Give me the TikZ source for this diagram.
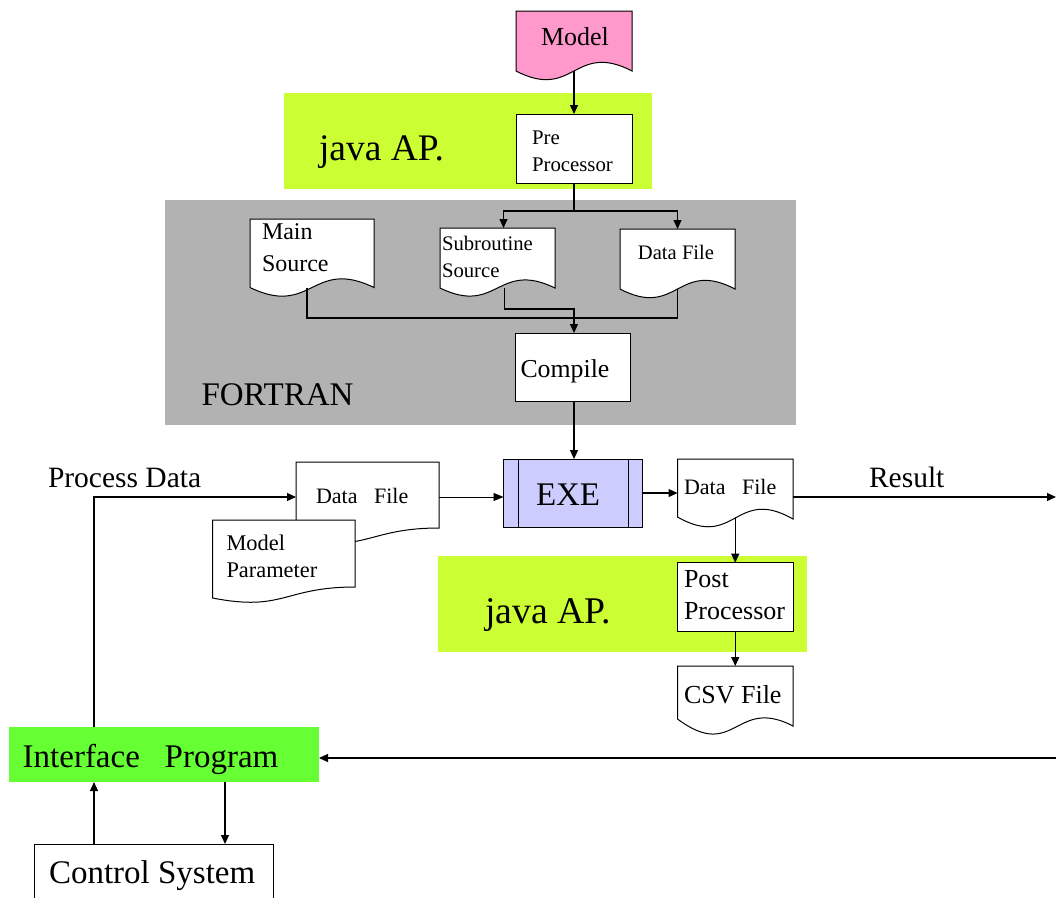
\documentclass[tikz,border=0pt]{standalone}
\usepackage{fontspec}
\setmainfont{Liberation Serif}
\usetikzlibrary{arrows.meta,fit,calc}
\definecolor{modelpink}{HTML}{FF99CC}
\definecolor{javagreen}{HTML}{CCFF33}
\definecolor{fortrangray}{HTML}{B2B2B2}
\definecolor{exeblue}{HTML}{CCCCFF}
\definecolor{ifgreen}{HTML}{66FF33}
\newcommand\tsz[1]{\fontsize{#1}{#1}\selectfont}

\begin{document}
\begin{tikzpicture}[x=1pt,y=-1pt,
  region/.style={inner sep=0pt, outer sep=0pt, draw=none},
  holder/.style={inner sep=0pt, outer sep=0pt, draw=none},
  boxed/.style={inner sep=0pt, outer sep=0pt, draw=black, line width=1pt, fill=white},
  docline/.style={draw=black, line width=1pt, fill=white},
  txt/.style={inner sep=0pt, outer sep=0pt, anchor=base west},
  link/.style={draw=black, line width=1.2pt},
  arr/.style={link, -{Triangle[length=9pt,width=8pt]}},
  thinarr/.style={draw=black, line width=0.6pt, -{Triangle[length=10pt,width=8pt]}},
]
\useasboundingbox (0,0) rectangle (1056,897);
\clip (0,0) rectangle (1056,897);

% coloured regions
\node[region, fill=javagreen, fit={(284,93) (652,189)}] (javaA) {};
\node[region, fill=fortrangray, fit={(165,200) (796,425)}] (fortran) {};
\node[region, fill=javagreen, fit={(438,556) (807,652)}] (javaB) {};
\node[region, fill=ifgreen, fit={(9,727) (319,782)}] (iface) {};

% document shapes (rectangle with wavy bottom edge)
\node[holder, fit={(516,11) (632,71)}] (model) {};
\filldraw[docline, fill=modelpink] (516,11) -- (632,11) -- (632,71)
  .. controls (574,41) and (574,101) .. (516,71) -- cycle;

\node[holder, fit={(250,219) (374,287.5)}] (main) {};
\filldraw[docline] (250,219) -- (374,219) -- (374,287.5)
  .. controls (312,257.5) and (312,317.5) .. (250,287.5) -- cycle;

\node[holder, fit={(440,228) (555,288)}] (sub) {};
\filldraw[docline] (440,228) -- (555,228) -- (555,288)
  .. controls (497.5,260) and (497.5,316) .. (440,288) -- cycle;

\node[holder, fit={(620,229) (735,289)}] (dat1) {};
\filldraw[docline] (620,229) -- (735,229) -- (735,289)
  .. controls (677.5,259) and (677.5,319) .. (620,289) -- cycle;

\node[holder, fit={(296,462) (439,528)}] (dfl) {};
\filldraw[docline] (296,462) -- (439,462) -- (439,528)
  .. controls (367.5,528) and (367.5,553) .. (296,539) -- cycle;

\node[holder, fit={(212.6,520) (355,587)}] (mpar) {};
\filldraw[docline] (212.6,520) -- (355,520) -- (355,587)
  .. controls (283.8,587) and (283.8,612) .. (212.6,598) -- cycle;

\node[holder, fit={(677.5,459) (793,518)}] (dfr) {};
\filldraw[docline] (677.5,459) -- (793,459) -- (793,519)
  .. controls (735.25,486) and (735.25,550) .. (677.5,517) -- cycle;

\node[holder, fit={(677.5,666) (793,722)}] (csv) {};
\filldraw[docline] (677.5,666) -- (793,666) -- (793,726)
  .. controls (735.25,696) and (735.25,762) .. (677.5,719) -- cycle;

% process boxes
\node[boxed, fit={(516,114) (632,183)}] (pre) {};
\node[boxed, fit={(515,333) (630,401)}] (compile) {};
\node[boxed, fill=exeblue, fit={(503.5,459) (642.7,527)}] (exe) {};
\draw[line width=1pt] ([xshift=14.5pt]exe.north west) -- ([xshift=14.5pt]exe.south west);
\draw[line width=1pt] ([xshift=-14.7pt]exe.north east) -- ([xshift=-14.7pt]exe.south east);
\node[boxed, fit={(677.5,562.7) (793,631.7)}] (post) {};
\node[boxed, fit={(34,844) (273,905)}] (ctrl) {};

% connectors
\coordinate (split) at (574,211);
\coordinate (jog) at (574,309);
\coordinate (join) at (574,318);
\coordinate (pd) at (94,497);
\coordinate (down) at (225,800);
\coordinate (resend) at (1056,497);
\coordinate (fb) at (1056,758);
\coordinate (din) at ([yshift=-2pt]dfl.east);

\draw[arr] (model.south) -- (pre.north);
\draw[link] (pre.south) -- (split);
\draw[arr] (split) -| ([xshift=6pt]sub.north);
\draw[arr] (split) -| (dat1.north);
\draw[link] ([xshift=-5pt]main.south) |- (join);
\draw[link] (dat1.south) |- (join);
\draw[arr] ([xshift=7pt]sub.south) |- (jog) -- (jog |- compile.north);
\draw[arr] (compile.south -| jog) -- (exe.north -| jog);
\draw[thinarr] (din) -- (din -| exe.west);
\draw[arr] (iface.north -| pd) -- (pd) -- (pd -| dfl.west);
\draw[arr] (exe.east) -- (exe.east -| dfr.west);
\draw[arr] (dfr.east |- resend) -- (resend);
\draw[arr] (dfr.south) -- (post.north);
\draw[arr] (post.south) -- (csv.north);
\draw[arr] (fb) -- (fb -| iface.east);
\draw[arr] (ctrl.north -| pd) -- (iface.south -| pd);
\draw[arr] (iface.south -| down) -- (ctrl.north -| down);

% labels
\node[txt, anchor=base, font=\tsz{26}] (tModel) at (575,45) {Model};
\node[txt, font=\tsz{37.5}] (tJavaA) at (319,160) {java AP.};
\node[txt, font=\tsz{20.8}] (tPre1) at (532,144) {Pre};
\node[txt, font=\tsz{20.8}] (tPre2) at (532,171) {Processor};
\node[txt, font=\tsz{24}] (tMain1) at (262,239) {Main};
\node[txt, font=\tsz{24}] (tMain2) at (262,271) {Source};
\node[txt, font=\tsz{20.7}] (tSub1) at (442,250) {Subroutine};
\node[txt, font=\tsz{20.7}] (tSub2) at (442,277) {Source};
\node[txt, anchor=base, font=\tsz{20.6}] (tDat1) at (676,259) {Data File};
\node[txt, font=\tsz{25.8}] (tCompile) at (520.5,377) {Compile};
\node[txt, font=\tsz{33}] (tFortran) at (201.5,405) {FORTRAN};
\node[txt, font=\tsz{29.5}] (tProc) at (48,487) {Process Data};
\node[txt, font=\tsz{22}] (tDfl) at (316,503) {Data\hspace{0.5em} File};
\node[txt, font=\tsz{22.4}] (tPar1) at (226.5,550) {Model};
\node[txt, font=\tsz{22.4}] (tPar2) at (226.5,577) {Parameter};
\node[txt, font=\tsz{33}] (tExe) at (536,505) {EXE};
\node[txt, font=\tsz{22}] (tDfr) at (684,494) {Data\hspace{0.5em} File};
\node[txt, font=\tsz{29.5}] (tResult) at (869,487) {Result};
\node[txt, font=\tsz{37.7}] (tJavaB) at (485,623) {java AP.};
\node[txt, font=\tsz{26}] (tPost1) at (684,587) {Post};
\node[txt, font=\tsz{26}] (tPost2) at (684,619) {Processor};
\node[txt, font=\tsz{26}] (tCsv) at (684,703) {CSV File};
\node[txt, font=\tsz{33}] (tIface) at (22.7,767) {Interface\hspace{0.5em} Program};
\node[txt, font=\tsz{33}] (tCtrl) at (49,883) {Control System};
\end{tikzpicture}
\end{document}
